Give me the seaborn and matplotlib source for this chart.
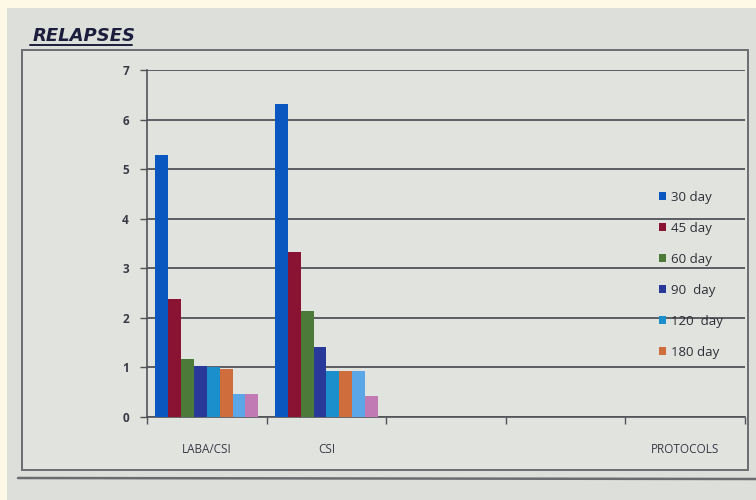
import matplotlib
matplotlib.use("Agg")
import matplotlib.pyplot as plt
import seaborn as sns
import pandas as pd
from matplotlib.patches import Rectangle
from matplotlib.lines import Line2D

# Data
protocols = ["LABA/CSI", "CSI"]
periods = ["30 day", "45 day", "60 day", "90  day", "120  day", "180 day", "series 7", "series 8"]
relapses_laba_csi = [5.28, 2.38, 1.16, 1.03, 1.01, 0.97, 0.46, 0.46]
relapses_csi = [6.31, 3.32, 2.13, 1.42, 0.93, 0.93, 0.93, 0.42]
period_colors = ["#0b57c0", "#8a1232", "#4c7a38", "#28399a", "#1b8fcc",
                 "#cf6d3c", "#5aa6e6", "#c27ab4"]
legend_count = 6
y_ticks = [0, 1, 2, 3, 4, 5, 6, 7]

df = pd.DataFrame({
    "protocol": [p for p in protocols for _ in periods],
    "period": periods * len(protocols),
    "relapses": relapses_laba_csi + relapses_csi,
})

sns.set_theme(style="white")
plt.rcParams["font.family"] = ["Open Sans", "DejaVu Sans"]

fig = plt.figure(figsize=(7.56, 5.0), dpi=100, facecolor="#fdf9e6")
W, H = 756, 500

# screen background and chart frame
fig.patches.append(Rectangle((7 / W, 0), 1, 1 - 8 / H, transform=fig.transFigure,
                             facecolor="#dddfdb", edgecolor="none", zorder=-10))
fig.patches.append(Rectangle((22 / W, 1 - 470 / H), (748 - 22) / W, (470 - 50) / H,
                             transform=fig.transFigure, facecolor="#e1e3df",
                             edgecolor="#6a6c70", linewidth=1.4, zorder=-5))
fig.lines.append(Line2D([18 / W, 1], [1 - 478 / H, 1 - 479 / H], transform=fig.transFigure,
                        color="#6a6c70", linewidth=1.8))

ax = fig.add_axes([147 / W, 1 - 417 / H, (745 - 147) / W, (417 - 70) / H])
ax.set_facecolor("none")

sns.barplot(data=df, x="protocol", y="relapses", hue="period", order=protocols,
            hue_order=periods, palette=period_colors, width=0.86, gap=0,
            saturation=1, dodge=True, legend=False, ax=ax, zorder=3,
            linewidth=0, edgecolor="none")

ax.set_xlim(-0.5, 4.5)
ax.set_ylim(0, 7)
ax.set_yticks(y_ticks)
ax.set_yticklabels([str(v) for v in y_ticks], fontsize=8.5, fontweight="bold", color="#3a3a44")
ax.yaxis.grid(True, color="#505258", linewidth=1.3, zorder=0)
ax.tick_params(axis="y", direction="out", length=5, width=1, color="#505258", pad=8, left=True)

ax.set_xticks([0, 1, 4])
ax.set_xticklabels(["LABA/CSI", "CSI", "PROTOCOLS"], fontsize=8.5, color="#3a3a44")
ax.set_xticks([-0.5, 0.5, 1.5, 2.5, 3.5, 4.5], minor=True)
ax.tick_params(axis="x", which="major", length=0, pad=19)
ax.tick_params(axis="x", which="minor", direction="out", length=5, width=1,
               color="#505258", bottom=True)
ax.set_xlabel("")
ax.set_ylabel("")

for side in ["top", "right"]:
    ax.spines[side].set_visible(False)
for side in ["left", "bottom"]:
    ax.spines[side].set_color("#505258")
    ax.spines[side].set_linewidth(1.2)

handles = [Rectangle((0, 0), 1, 1, facecolor=c, edgecolor="none")
           for c in period_colors[:legend_count]]
fig.legend(handles, periods[:legend_count], loc="upper left",
           bbox_to_anchor=(647 / W, 1 - 179 / H), frameon=False, fontsize=9.5,
           handlelength=0.55, handleheight=0.55, handletextpad=0.35,
           labelspacing=1.36, labelcolor="#2e2e36")

# title with underline
fig.text(33 / W, 1 - 41 / H, "RELAPSES", fontsize=13, fontweight="bold",
         fontstyle="italic", color="#1c1c3c", ha="left", va="baseline",
         family="DejaVu Sans")
fig.lines.append(Line2D([30 / W, 132 / W], [1 - 45 / H, 1 - 45 / H],
                        transform=fig.transFigure, color="#1c1c3c", linewidth=1.4))

fig.savefig("out.png", dpi=100, facecolor=fig.get_facecolor())
